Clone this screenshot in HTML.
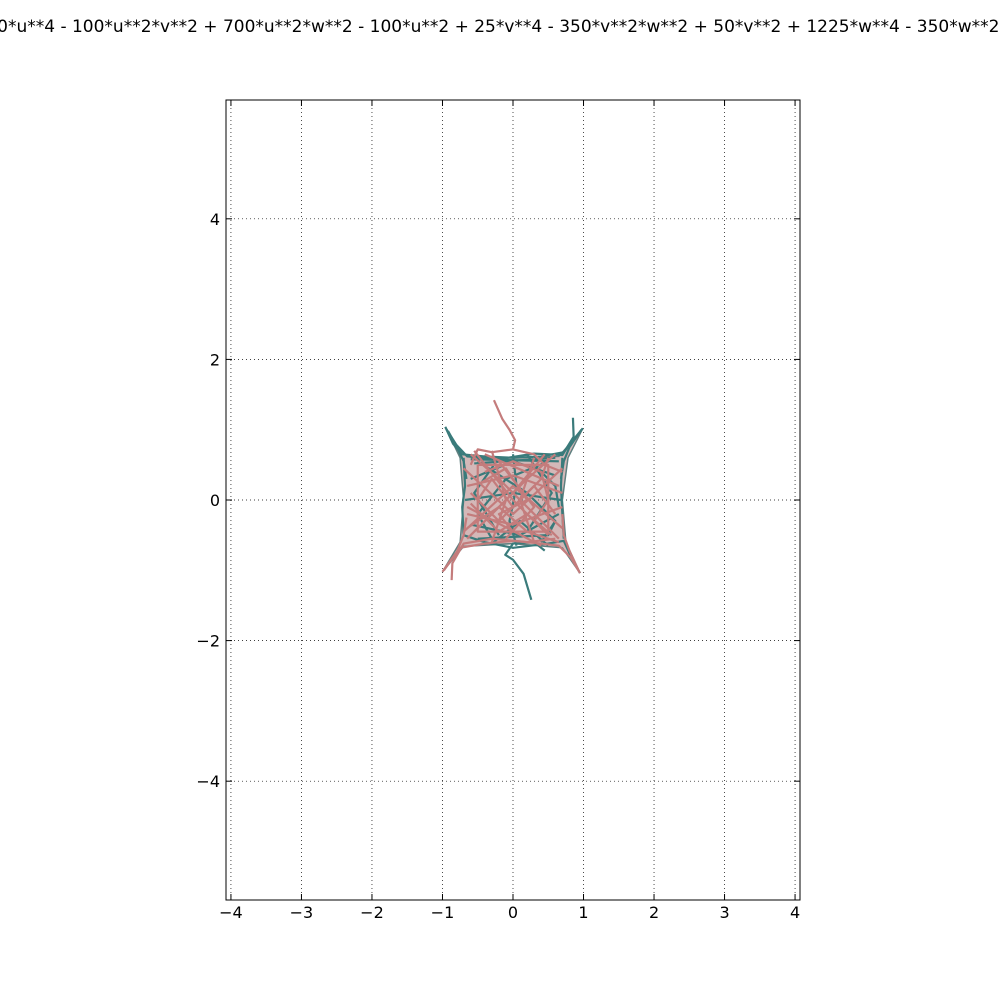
<!DOCTYPE html>
<html><head><meta charset="utf-8"><style>
body{margin:0;background:#fff;}
svg{display:block;font-family:"DejaVu Sans","Liberation Sans",sans-serif;}
</style></head><body>
<svg id="chart" width="1000" height="1000" viewBox="0 0 1000 1000">
<rect width="1000" height="1000" fill="#fff"/>
<text x="500" y="32" text-anchor="middle" font-size="17">1200*u**4 - 100*u**2*v**2 + 700*u**2*w**2 - 100*u**2 + 25*v**4 - 350*v**2*w**2 + 50*v**2 + 1225*w**4 - 350*w**2 + 1</text>
<g id="grid"></g>
<g id="marks"></g>
<rect x="226" y="100" width="574" height="800" fill="none" stroke="#000" stroke-width="1"/>
<g id="ticks"></g>
</svg>
<script>
const xTicks=[-4,-3,-2,-1,0,1,2,3,4];
const yTicks=[-4,-2,0,2,4];
const xDomain=[-4.07,4.07];
const yDomain=[-5.69,5.69];
const bodyOutline=[[-0.96,1.04],[-0.8,0.78],[-0.65,0.62],[0,0.6],[0.65,0.62],[0.85,0.85],[0.99,1.02],[0.78,0.6],[0.7,0.0],[0.75,-0.6],[0.95,-1.04],[0.7,-0.68],[0,-0.62],[-0.7,-0.66],[-1.0,-1.02],[-0.75,-0.6],[-0.7,0.0],[-0.75,0.6]];
const teal=[
[[-0.96,1.04],[-0.85,0.8],[-0.72,0.65],[-0.4,0.62],[0,0.6],[0.4,0.62],[0.72,0.68],[0.85,0.85],[0.99,1.02]],
[[-0.94,1.0],[-0.8,0.78],[-0.65,0.62],[-0.2,0.58],[0.3,0.66],[0.7,0.64],[0.86,0.9],[0.85,1.17]],
[[-0.92,0.98],[-0.78,0.72],[-0.7,0.55],[-0.66,0.3]],
[[0.97,1.0],[0.8,0.75],[0.72,0.55],[0.68,0.3]],
[[0.26,-1.42],[0.15,-1.05],[0.0,-0.85],[-0.11,-0.78],[0.0,-0.62],[0.3,-0.6],[0.45,-0.72]],
[[-0.7,0.6],[-0.68,0.2],[-0.72,-0.1],[-0.7,-0.5],[-0.4,-0.6],[0.0,-0.68],[0.5,-0.62],[0.72,-0.58],[0.82,-0.8],[0.95,-1.04]],
[[0.7,0.6],[0.68,0.2],[0.7,-0.2],[0.72,-0.55]],
[[-0.5,0.55],[0.2,0.1],[0.6,-0.3],[0.4,-0.6]],
[[0.5,0.55],[-0.1,0.3],[-0.5,-0.2],[-0.3,-0.55]],
[[-0.6,0.3],[0.0,0.55],[0.6,0.35]],
[[-0.6,-0.35],[0.1,-0.5],[0.65,-0.2]],
[[0.0,0.65],[0.05,0.2],[-0.05,-0.3],[0.05,-0.65]],
[[-0.68,0.0],[0.0,0.1],[0.68,0.0]],
[[0.2,0.65],[0.55,0.1],[0.2,-0.45]],
[[-0.2,0.6],[-0.55,0.1],[-0.2,-0.5]],
[[-0.6,0.58],[0.65,0.55]],[[-0.55,0.52],[0.6,0.6]],[[0.3,0.5],[0.6,0.2],[0.65,-0.1]],
[[-0.5,-0.55],[0.5,-0.5],[0.6,-0.3]],[[-0.3,-0.62],[0.1,-0.3],[0.5,-0.65]]
];
const pink=[
[[-0.27,1.42],[-0.15,1.15],[-0.05,1.0],[0.03,0.85],[0.0,0.72],[-0.3,0.68],[-0.5,0.72],[-0.6,0.5]],
[[-1.0,-1.02],[-0.88,-0.85],[-0.75,-0.68],[-0.4,-0.62],[0,-0.58],[0.4,-0.62],[0.65,-0.65],[0.82,-0.82],[0.95,-1.04]],
[[-0.87,-1.14],[-0.86,-0.9],[-0.7,-0.62],[-0.3,-0.55],[0.2,-0.6],[0.6,-0.55]],
[[-0.98,-1.0],[-0.8,-0.75],[-0.7,-0.5],[-0.66,-0.25]],
[[0.93,-1.0],[0.8,-0.72],[0.72,-0.5],[0.7,-0.2]],
[[-0.6,0.65],[-0.2,0.3],[0.3,-0.2],[0.65,-0.55]],
[[0.6,0.65],[0.2,0.3],[-0.3,-0.2],[-0.65,-0.55]],
[[-0.55,0.7],[0.0,0.0],[0.5,-0.5]],
[[0.45,0.65],[0.0,0.1],[-0.55,-0.45]],
[[-0.65,0.2],[0.0,0.35],[0.7,0.1]],
[[-0.65,-0.2],[0.0,-0.35],[0.7,-0.1]],
[[-0.3,0.7],[-0.1,0.0],[-0.3,-0.6]],
[[0.3,0.6],[0.1,0.0],[0.3,-0.6]],
[[-0.7,0.45],[0.0,-0.2],[0.7,0.45]],
[[-0.7,-0.45],[0.0,0.2],[0.7,-0.4]],
[[-0.5,0.5],[0.5,0.5],[0.5,-0.45],[-0.5,-0.45],[-0.5,0.5]],
[[-0.4,0.65],[0.65,0.2]],[[-0.65,-0.1],[0.4,-0.65]],
[[-0.2,0.55],[0.3,-0.1],[-0.1,-0.55]],
[[0.0,0.72],[0.3,0.65],[0.45,0.5],[0.7,0.4]],
[[-0.6,0.1],[-0.2,-0.3],[0.3,0.2],[0.6,-0.2]],
[[-0.6,-0.05],[-0.2,-0.45],[0.2,-0.2],[0.55,-0.5]],
[[-0.4,0.4],[0.0,0.55],[0.4,0.4],[0.5,0.0],[0.3,-0.3]],
[[-0.45,0.25],[-0.1,0.45],[0.2,0.0],[-0.2,-0.2],[0.0,-0.45]],
[[-0.65,-0.4],[-0.2,-0.1],[0.2,-0.45],[0.65,-0.6]],
[[-0.5,0.0],[-0.3,0.3],[0.0,-0.1],[0.4,0.3],[0.5,0.6]]
];
const sx=v=>226+(v-xDomain[0])/(xDomain[1]-xDomain[0])*574;
const sy=v=>900-(v-yDomain[0])/(yDomain[1]-yDomain[0])*800;
const NS='http://www.w3.org/2000/svg';
const grid=document.getElementById('grid'),ticks=document.getElementById('ticks'),marks=document.getElementById('marks');
function mk(tag,attrs,parent){const e=document.createElementNS(NS,tag);for(const k in attrs)e.setAttribute(k,attrs[k]);parent.appendChild(e);return e;}
xTicks.forEach(t=>{const x=sx(t);
const g=mk('line',{x1:x,x2:x,y1:100,y2:900,stroke:'#000','stroke-width':0.7,'stroke-dasharray':'1,3'},grid);

mk('line',{x1:x,x2:x,y1:900,y2:894,stroke:'#000'},ticks);mk('line',{x1:x,x2:x,y1:100,y2:106,stroke:'#000'},ticks);
const tx=mk('text',{x:x,y:918,'text-anchor':'middle','font-size':16},ticks);tx.textContent=(t<0?'\u2212':'')+Math.abs(t);
});
yTicks.forEach(t=>{const y=sy(t);
const g=mk('line',{x1:226,x2:800,y1:y,y2:y,stroke:'#000','stroke-width':0.7,'stroke-dasharray':'1,3'},grid);

mk('line',{x1:226,x2:232,y1:y,y2:y,stroke:'#000'},ticks);mk('line',{x1:800,x2:794,y1:y,y2:y,stroke:'#000'},ticks);
const tx=mk('text',{x:220,y:y+6,'text-anchor':'end','font-size':16},ticks);tx.textContent=(t<0?'\u2212':'')+Math.abs(t);
});
const body=mk('polygon',{points:bodyOutline.map(q=>sx(q[0])+','+sy(q[1])).join(' '),fill:'#b07d7d','fill-opacity':0.55,stroke:'#5f7f7f','stroke-width':1.5},marks);


function draw(arr,color,name){arr.forEach(p=>{const pl=mk('polyline',{points:p.map(q=>sx(q[0])+','+sy(q[1])).join(' '),fill:'none',stroke:color,'stroke-width':2.2,'stroke-linejoin':'round'},marks);
});}
draw(teal,'#3a7b7b','teal-curve');
draw(pink,'#c47c7c','pink-curve');
</script>
</body></html>
